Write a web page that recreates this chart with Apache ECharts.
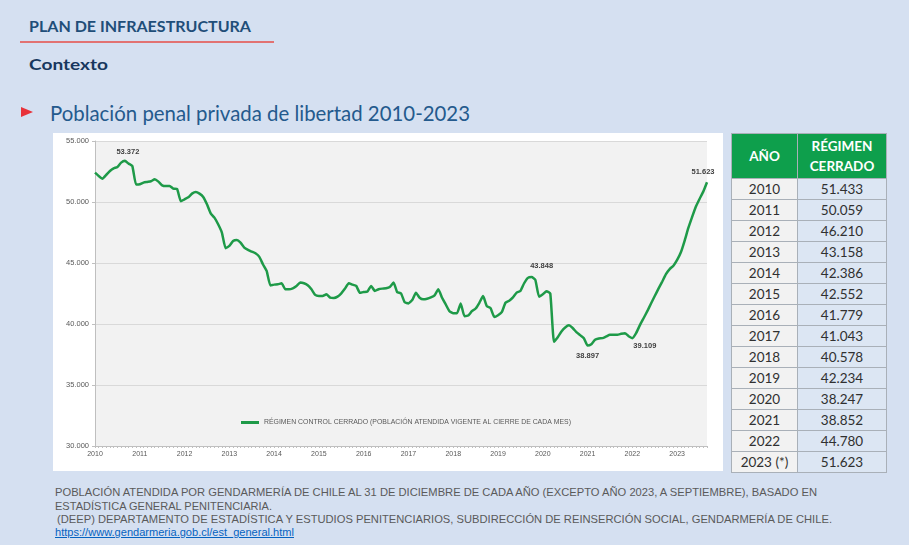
<!DOCTYPE html>
<html>
<head>
<meta charset="utf-8">
<script src="https://cdn.jsdelivr.net/npm/echarts@6/dist/echarts.min.js"></script>
<style>
  html, body { margin: 0; padding: 0; }
  body { width: 909px; height: 545px; background: #D5E0F1; position: relative; overflow: hidden; font-family: 'Lato', 'Liberation Sans', sans-serif; }
  .abs { position: absolute; white-space: nowrap; transform-origin: 0 50%; }
  .fn { font-family: 'Liberation Sans Narrow', 'Liberation Sans', sans-serif; }
  #chart { position: absolute; left: 53px; top: 133px; width: 670px; height: 338px; background: #FFFFFF; }
  table { position: absolute; left: 731px; top: 133px; border-collapse: collapse; font-family: 'Lato', 'Liberation Sans', sans-serif; }
  td, th { border: 1px solid #A9B0B8; padding: 0; text-align: center; }
  th { background: #0E9F4C; color: #FFFFFF; font-weight: bold; font-size: 13.5px; line-height: 20px; height: 44px; }
  td { height: 20px; font-size: 13.5px; color: #303030; line-height: 20px; }
  td.y { background: #F2F2F2; width: 65px; }
  td.v { background: #DCE6F3; width: 88px; }
</style>
</head>
<body>
<div class="abs" id="t1" data-w="222" style="left:29px; top:16px; line-height:20px; font-size:15px; font-weight:bold; color:#1F4E79;">PLAN DE INFRAESTRUCTURA</div>
<div style="position:absolute; left:20px; top:41px; width:254px; height:2px; background:#E27272;"></div>
<div class="abs" id="t2" data-w="79" style="left:29px; top:54px; line-height:20px; font-size:16px; font-weight:bold; color:#17375E;">Contexto</div>
<div style="position:absolute; left:21px; top:107px; width:0; height:0; border-left:12px solid #E8323A; border-top:5.5px solid transparent; border-bottom:5.5px solid transparent;"></div>
<div class="abs" id="t3" data-w="420" style="left:50px; top:100px; line-height:26px; font-size:21px; color:#245A8D;">Población penal privada de libertad 2010-2023</div>
<div id="chart"></div>
<table id="tbl"></table>
<div class="abs fn" data-w="762" style="left:55px; top:485px; line-height:14px; font-size:10.5px; color:#5A5A5A;">POBLACIÓN ATENDIDA POR GENDARMERÍA DE CHILE AL 31 DE DICIEMBRE DE CADA AÑO (EXCEPTO AÑO 2023, A SEPTIEMBRE), BASADO EN</div>
<div class="abs fn" data-w="217" style="left:55px; top:498.5px; line-height:14px; font-size:10.5px; color:#5A5A5A;">ESTADÍSTICA GENERAL PENITENCIARIA.</div>
<div class="abs fn" data-w="775" style="left:57px; top:512px; line-height:14px; font-size:10.5px; color:#5A5A5A;">(DEEP) DEPARTAMENTO DE ESTADÍSTICA Y ESTUDIOS PENITENCIARIOS, SUBDIRECCIÓN DE REINSERCIÓN SOCIAL, GENDARMERÍA DE CHILE.</div>
<div class="abs fn" data-w="239" style="left:55px; top:525px; line-height:14px; font-size:10.5px; color:#0563C1; text-decoration:underline;">https://www.gendarmeria.gob.cl/est_general.html</div>
<script>
// ---- Data (monthly, Jan 2010 – Sep 2023) ----
const years = [2010, 2011, 2012, 2013, 2014, 2015, 2016, 2017, 2018, 2019, 2020, 2021, 2022, 2023];
const v2010 = [52407, 52134, 51915, 52216, 52543, 52762, 52871, 53226, 53372, 53145, 52953, 51433];
const v2011 = [51450, 51587, 51642, 51697, 51861, 51669, 51369, 51314, 51314, 51096, 51068, 50059];
const v2012 = [50221, 50385, 50686, 50822, 50686, 50412, 49812, 49074, 48719, 48173, 47490, 46210];
const v2013 = [46397, 46806, 46888, 46670, 46260, 46069, 45932, 45796, 45523, 44894, 44348, 43158];
const v2014 = [43228, 43255, 43337, 42845, 42845, 42927, 43118, 43392, 43337, 43173, 42845, 42386];
const v2015 = [42299, 42299, 42435, 42162, 42135, 42244, 42517, 42900, 43337, 43228, 43118, 42552];
const v2016 = [42626, 42654, 43118, 42709, 42845, 42900, 42927, 43036, 43392, 42600, 42510, 41779];
const v2017 = [41690, 41960, 42570, 42150, 42020, 42070, 42180, 42350, 42840, 42150, 41600, 41043];
const v2018 = [40880, 40880, 41680, 40640, 40690, 41050, 41270, 41740, 42290, 41460, 41300, 40578];
const v2019 = [40720, 40970, 41740, 41900, 42180, 42570, 42710, 43340, 43780, 43848, 43620, 42234];
const v2020 = [42430, 42680, 42500, 38550, 38920, 39390, 39720, 39890, 39670, 39340, 39090, 38840];
const v2021 = [38230, 38340, 38700, 38810, 38840, 38980, 39120, 39120, 39120, 39200, 39250, 39000];
const v2022 = [38840, 39250, 39890, 40470, 41050, 41680, 42290, 42900, 43480, 44090, 44500, 44780];
const v2023 = [45250, 45880, 46820, 47870, 48760, 49610, 50250, 50850, 51623];
// data labels shown on the chart (index in monthly series -> text)
const labelIdx  = [8, 117, 132, 144, 164];
const labelText = ['53.372', '43.848', '38.897', '39.109', '51.623'];
// y-axis ticks
const yMin = 30000, yMax = 55000, yStep = 5000;
// table
const tableYears  = ['2010','2011','2012','2013','2014','2015','2016','2017','2018','2019','2020','2021','2022','2023 (*)'];
const tableValues = ['51.433','50.059','46.210','43.158','42.386','42.552','41.779','41.043','40.578','42.234','38.247','38.852','44.780','51.623'];
const seriesName = 'RÉGIMEN CONTROL CERRADO (POBLACIÓN ATENDIDA VIGENTE AL CIERRE DE CADA MES)';

const values = [].concat(v2010, v2011, v2012, v2013, v2014, v2015, v2016, v2017, v2018, v2019, v2020, v2021, v2022, v2023);
const cats = [];
years.forEach(y => { for (let m = 1; m <= 12; m++) cats.push(y + '-' + m); });
cats.length = values.length;

const fmt = v => String(v).replace(/\B(?=(\d{3})+(?!\d))/g, '.');

const labelPos = {
  8:   { position: 'top', distance: 4, offset: [3, 0] },
  117: { position: 'top', distance: 6, offset: [10, 0] },
  132: { position: 'bottom', distance: 5 },
  144: { position: 'right', distance: 0, offset: [0, 8] },
  164: { position: 'top', distance: 5, offset: [-4, 0] }
};
const markData = labelIdx.map((idx, k) => ({
  coord: [idx, values[idx]],
  value: labelText[k],
  label: Object.assign({ show: true, formatter: labelText[k], fontSize: 7.5, fontWeight: 'bold', color: '#404040', fontFamily: 'Liberation Sans' }, labelPos[idx])
}));

const chart = echarts.init(document.getElementById('chart'), null, { renderer: 'canvas' });
chart.setOption({
  animation: false,
  backgroundColor: '#FFFFFF',
  grid: { left: 42, right: 16, top: 8, bottom: 25, show: true, backgroundColor: '#F2F2F2', borderWidth: 0 },
  legend: {
    data: [seriesName], left: 183, top: 281, itemWidth: 18, itemHeight: 3, itemGap: 4, icon: 'rect',
    itemStyle: { color: '#1E9A48' },
    textStyle: { fontSize: 6.9, color: '#595959', fontFamily: 'Liberation Sans' }
  },
  xAxis: {
    type: 'category', data: cats, boundaryGap: false,
    axisLine: { lineStyle: { color: '#BFBFBF', width: 1 } },
    axisTick: { show: true, interval: 0, length: 2, lineStyle: { color: '#BFBFBF' } },
    axisLabel: { interval: (i) => i % 12 === 0, formatter: (v) => v.split('-')[0], fontSize: 7, color: '#595959', margin: 5, fontFamily: 'Liberation Sans' },
    splitLine: { show: false }
  },
  yAxis: {
    type: 'value', min: yMin, max: yMax, interval: yStep,
    axisLine: { show: true, lineStyle: { color: '#BFBFBF' } },
    axisTick: { show: true, length: 3, lineStyle: { color: '#BFBFBF' } },
    axisLabel: { formatter: fmt, fontSize: 7.5, color: '#595959', margin: 6, fontFamily: 'Liberation Sans' },
    splitLine: { lineStyle: { color: '#D9D9D9', width: 1 } }
  },
  series: [{
    name: seriesName, type: 'line', data: values,
    showSymbol: false, symbol: 'none',
    smooth: 0.15,
    lineStyle: { color: '#1E9A48', width: 2.5 },
    itemStyle: { color: '#1E9A48' },
    emphasis: { disabled: true },
    markPoint: {
      symbol: 'circle', symbolSize: 2,
      itemStyle: { color: 'rgba(0,0,0,0)' },
      emphasis: { disabled: true },
      data: markData
    }
  }]
});

// table
const tbl = document.getElementById('tbl');
let html = '<tr><th style="width:65px">AÑO</th><th style="width:88px">RÉGIMEN<br>CERRADO</th></tr>';
tableYears.forEach((y, i) => { html += '<tr><td class="y">' + y + '</td><td class="v">' + tableValues[i] + '</td></tr>'; });
tbl.innerHTML = html;

// fit text widths
document.querySelectorAll('.abs[data-w]').forEach(el => {
  const w = el.getBoundingClientRect().width;
  const target = parseFloat(el.dataset.w);
  el.style.transform = 'scaleX(' + (target / w) + ')';
});
</script>
</body>
</html>
